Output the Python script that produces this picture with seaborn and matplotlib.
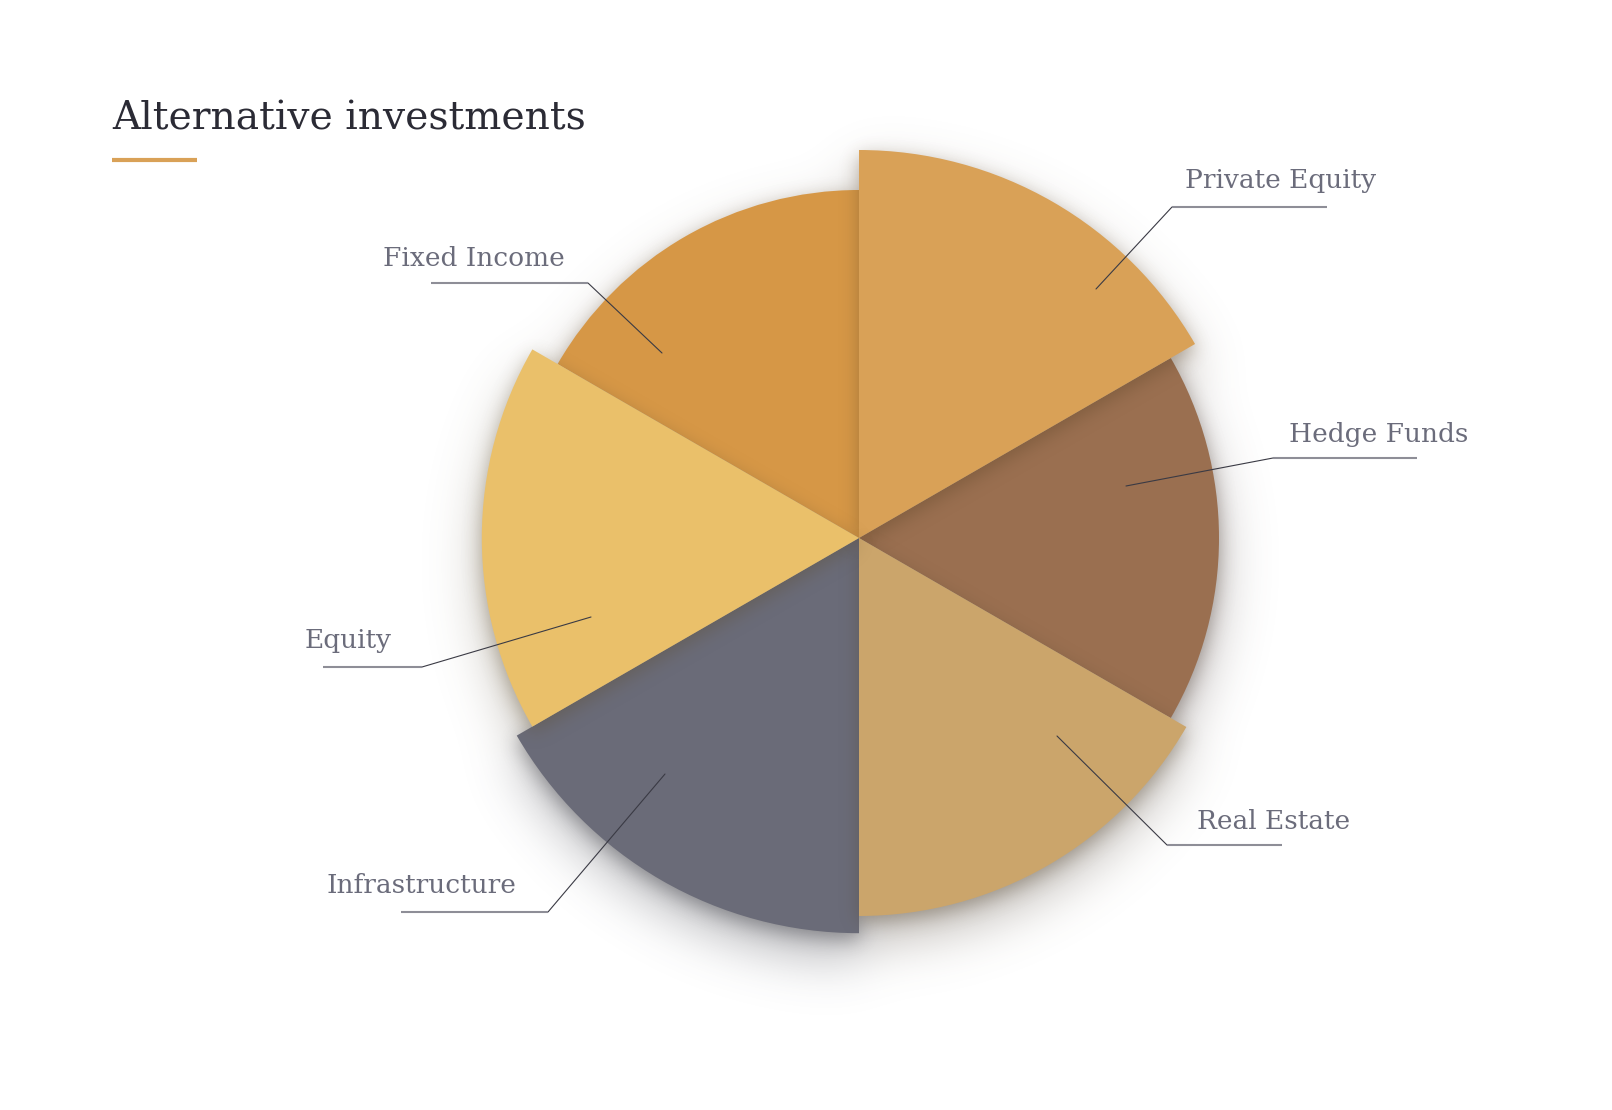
import numpy as np
import seaborn as sns
import matplotlib.pyplot as plt
from matplotlib.image import AxesImage
from matplotlib.colors import to_rgb

# data: equal-angle slices, radius = value
categories = ["Private Equity", "Hedge Funds", "Real Estate",
              "Infrastructure", "Equity", "Fixed Income"]
values = [97, 90, 94.5, 98.8, 94.3, 87]
colors = ["#D9A157", "#9A6F50", "#CBA56B", "#6A6B78", "#EAC06A", "#D69746"]

# label layout in figure pixels (from top-left):
# leader start, elbow, underline end, text left/baseline
label_start = [(1096, 289), (1126, 486), (1057, 736), (665, 774), (591, 617), (662, 353)]
label_elbow = [(1172, 207), (1273, 458), (1167, 845), (548, 912), (422, 667), (588, 283)]
label_end_x = [1327, 1417, 1282, 401, 323, 431]
label_text = [(1185, 188), (1289, 442), (1197, 829), (327, 893), (305, 648), (383, 266)]

W, H, DPI = 1612, 1110, 100
CX, CY = 859, 538          # pie centre in px
AX_PX = 1000
RMAX = 125
DRAW_ORDER = [1, 3, 5, 0, 2, 4]   # lower slices first

sns.set_theme(style="white")
plt.rcParams["font.family"] = ["DejaVu Serif"]

fig = plt.figure(figsize=(W / DPI, H / DPI), dpi=DPI)
fig.patch.set_facecolor("white")
ax = fig.add_axes([(CX - AX_PX / 2) / W, 1 - (CY + AX_PX / 2) / H, AX_PX / W, AX_PX / H],
                  projection="polar")
ax.set_theta_offset(np.pi / 2)
ax.set_theta_direction(-1)
ax.axis("off")

n = len(values)
width = 2 * np.pi / n
theta0 = np.arange(n) * width
px = AX_PX / 2 / RMAX

yy, xx = np.mgrid[0:AX_PX, 0:AX_PX] + 0.5
gx = xx - AX_PX / 2
gy = AX_PX / 2 - yy
rr = np.hypot(gx, gy)
tt = np.mod(np.arctan2(gx, gy), 2 * np.pi)
freq = np.fft.fftfreq(AX_PX)


def blur(img, sigma):
    g = np.exp(-2 * (np.pi * sigma * freq) ** 2)
    return np.clip(np.real(np.fft.ifft2(np.fft.fft2(img) * g[:, None] * g[None, :])), 0, 1)


def add_img(rgb, alpha, z):
    rgba = np.dstack([rgb, alpha])
    im = AxesImage(ax, extent=(0, 1, 0, 1), transform=ax.transAxes, origin="upper",
                   interpolation="nearest", zorder=z)
    im.set_data(rgba)
    ax.add_image(im)


masks = [((rr <= values[i] * px) & (tt >= theta0[i]) & (tt < theta0[i] + width)).astype(float)
         for i in range(n)]
grey = np.array(to_rgb("#5A5A66"))
crgb = [0.5 * np.array(to_rgb(c)) * 0.6 + 0.5 * grey for c in colors]

# soft outer drop shadow of the whole pie
acc = np.zeros((AX_PX, AX_PX, 3))
tot = np.zeros((AX_PX, AX_PX))
for i in range(n):
    s = blur(np.roll(masks[i], 24, axis=0), 26)
    acc += s[..., None] * crgb[i]
    tot += s
rgb = acc / np.maximum(tot, 1e-6)[..., None]
add_img(rgb, np.clip(tot, 0, 1) * 0.42, 0)

# slices with a tight shadow cast on neighbours below them
for k, i in enumerate(DRAW_ORDER):
    s = blur(np.roll(masks[i], 6, axis=0), 9)
    add_img(np.broadcast_to(np.array(to_rgb(colors[i])) * 0.4, (AX_PX, AX_PX, 3)),
            s * 0.38, 2 * k + 1)
    ax.bar(theta0[i], values[i], width=width, align="edge", color=colors[i],
           linewidth=0, zorder=2 * k + 2)

ax.set_xlim(0, 2 * np.pi)
ax.set_ylim(0, RMAX)

# overlay for title and labels, in pixel coordinates
ov = fig.add_axes([0, 0, 1, 1])
ov.set_xlim(0, W)
ov.set_ylim(H, 0)
ov.axis("off")
ov.patch.set_visible(False)
ov.set_zorder(5)

ov.text(112, 129, "Alternative investments", fontsize=28.2, color="#2B2B35", va="baseline")
ov.plot([112, 197], [160, 160], color="#D9A157", lw=3, solid_capstyle="butt")

for name, s, e, ex, t in zip(categories, label_start, label_elbow, label_end_x, label_text):
    ov.plot([s[0], e[0]], [s[1], e[1]], color="#3A3A44", lw=0.8)
    ov.plot([e[0], ex], [e[1], e[1]], color="#8E8E97", lw=1.5, solid_capstyle="butt")
    ov.text(t[0], t[1], name, fontsize=19, color="#6B6C7B", va="baseline", ha="left")

fig.savefig("out.png", dpi=DPI, facecolor="white")
